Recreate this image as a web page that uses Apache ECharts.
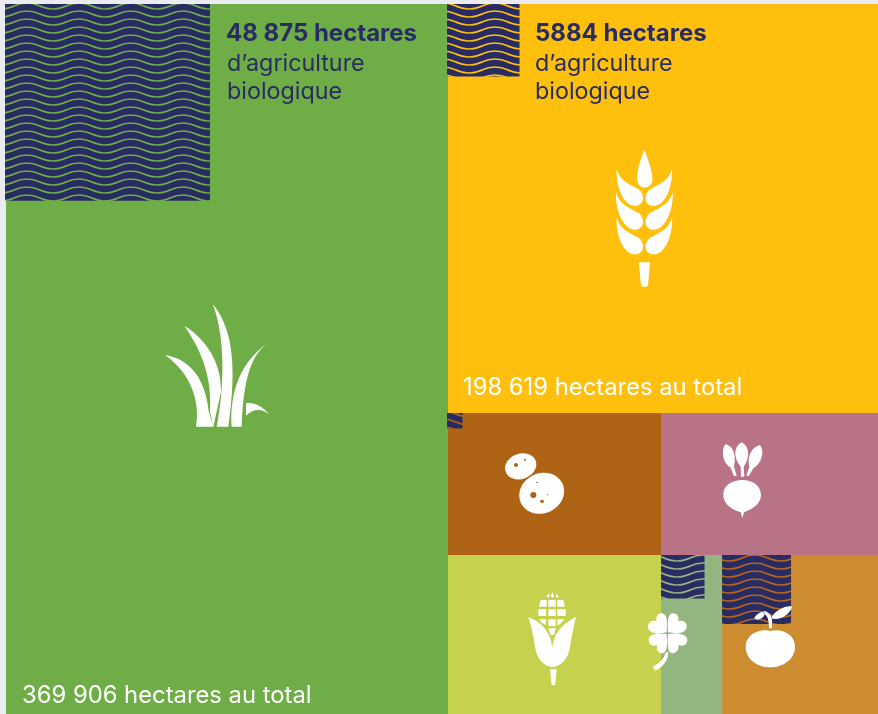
<!DOCTYPE html>
<html><head><meta charset="utf-8">
<style>html,body{margin:0;padding:0;background:#ebebf2;overflow:hidden}#c{width:878px;height:714px}</style>
<script src="https://cdn.jsdelivr.net/npm/echarts@6/dist/echarts.min.js"></script>
</head><body><div id="c"></div>
<script>
const tileNames = ['prairies', 'cereales', 'pommes de terre', 'betteraves', 'mais', 'trefle', 'fruits'];
const tileAreas = [369906, 207270, 35650, 36320, 39930, 11435, 29235];
const organicAreas = [49530, 6195, 283, 0, 0, 2230, 5610];
const tileGroups = [[0], [1], [2, 3], [4, 5, 6]];
const organicLabels = ['48 875 hectares', '5884 hectares', '', '', '', '', ''];
const organicCaption = ['d’agriculture', 'biologique'];
const totalLabels = ['369 906 hectares au total', '198 619 hectares au total', '', '', '', '', ''];

const NAVY = '#292c63';
const tileColors = ['#6fad47', '#fec00d', '#ae6414', '#b97387', '#c6d24e', '#93b57f', '#cc8c2f'];
const lineColors = ['#6fad47', '#fec00d', '#ae6414', '#b97387', '#c6d24e', '#93b57f', '#b4651a'];

const wheatGrain = [[50,85],[48,156],[50,230]].map(([x,y]) => {
  const d = y - 85;
  return `M${x},${y}C${x-3},${140+d} 70,${198+d} 105,${198+d}C132,${198+d} 138,${165+d} 115,${148+d}C95,${135+d} 58,${125+d} ${x},${y}Z`
    + `M${266-x},${y}C${269-x},${140+d} 196,${198+d} 161,${198+d}C134,${198+d} 128,${165+d} 151,${148+d}C171,${135+d} 208,${125+d} ${266-x},${y}Z`;
}).join('');
function blob(cx, cy, rx, ry, rot, sweep) {
  const a = rot * Math.PI / 180, dx = rx * Math.cos(a), dy = rx * Math.sin(a);
  return `M${cx-dx},${cy-dy}A${rx},${ry},${rot},1,${sweep},${cx+dx},${cy+dy}A${rx},${ry},${rot},1,${sweep},${cx-dx},${cy-dy}Z`;
}
const iconPaths = [
  // grass
  'M45,180C110,190 165,240 176,348L190,395L138,395C150,330 130,240 45,180Z'
  + 'M103,92C165,130 215,200 213,290L190,395L180,350C187,240 150,160 103,92Z'
  + 'M188,27C240,90 265,190 235,395L200,395C225,270 225,120 188,27Z'
  + 'M355,143C300,180 280,260 275,395L245,395C240,320 255,210 355,143Z'
  + 'M288,325C310,320 340,335 357,358C335,340 310,340 288,362Z',
  // wheat
  'M133,30C120,60 110,95 112,120C113,150 155,150 157,120C158,95 145,60 133,30Z' + wheatGrain
  + 'M116,367L150,367L144,436C143,442 124,442 123,436Z',
  // potatoes
  blob(242,184,48,38,-20,1) + blob(228,180,6,6,0,0) + blob(255,164,3,3,0,0)
  + blob(305,265,69,60,-25,1) + blob(280,270,9,9,0,0) + blob(306,289,6,5,0,0) + blob(291,232,3,2,0,0) + blob(322,269,2,2,0,0),
  // beet
  'M70,180C70,145 105,135 127,135C155,135 183,150 183,180C183,210 150,225 132,232L127,250L122,232C100,225 70,210 70,180Z'
  + 'M125,22C150,35 150,70 131,95L133,125L123,125L122,95C100,70 100,35 125,22Z'
  + 'M76,28C98,30 110,60 102,95L110,122L102,124L92,98C68,85 62,45 76,28Z'
  + 'M180,30C195,50 185,85 160,100L146,124L139,121L148,96C140,60 158,35 180,30Z',
  // corn
  'M55,112C90,125 122,150 127,205C132,150 165,130 198,110C190,140 185,170 180,200C175,235 155,258 127,262C100,258 80,235 75,200C70,170 65,140 55,112Z'
  + 'M120,268L140,268L136,312C135,317 125,317 124,312Z'
  + 'M92,60L110,60L110,80L87,80Z M115,60L137,60L137,80L115,80Z M142,60L160,60L165,80L142,80Z'
  + 'M85,88L108,88L108,108L85,108Z M115,88L137,88L137,108L115,108Z M142,88L167,88L167,108L142,108Z'
  + 'M88,118L108,118L108,135L95,128Z M115,118L137,118L137,138L115,138Z M142,118L163,118L150,133L142,135Z'
  + 'M115,145L137,145L132,165L122,165Z M108,50L118,40L118,52Z M122,52L127,36L133,52Z M138,40L147,52L138,52Z',
  // clover
  'M80,247C60,252 24,252 24,230C24,214 38,210 50,214C44,198 58,188 66,190C84,192 82,225 80,247Z'
  + 'M84,247C84,225 80,192 98,190C108,188 120,198 114,214C126,210 140,214 140,230C140,252 104,252 84,247Z'
  + 'M80,253C60,248 26,250 26,270C26,286 40,290 52,285C46,298 56,310 68,310C84,308 82,275 80,253Z'
  + 'M84,253C104,248 142,250 142,270C142,286 126,290 114,285C120,298 108,310 96,310C82,308 82,275 84,253Z'
  + 'M76,310C72,325 60,340 38,350L45,362C65,352 85,335 85,305Z',
  // apple
  'M392,243C420,235 465,250 465,290C465,330 425,352 392,352C355,352 317,330 317,290C317,250 365,235 392,243Z'
  + 'M393,205C405,180 440,165 456,170C452,190 420,215 393,205Z'
  + 'M342,205C350,190 365,185 372,185C380,200 355,215 342,205Z'
  + 'M387,235L396,235L396,205C393,195 385,185 372,183L370,190C380,195 387,205 387,235Z'
];
// icon origin relative to its tile, in pixels
const iconOffsets = [[144,291],[152,136],[-8,-8],[39,22],[62,25],[-21,-5],[-82,-5]];
const FONT = 'Inter, sans-serif';

function hatch(color) {
  const c = document.createElement('canvas');
  c.width = 52; c.height = 8;
  const g = c.getContext('2d');
  g.fillStyle = NAVY; g.fillRect(0, 0, 52, 8);
  g.strokeStyle = color; g.lineWidth = 1.7;
  for (let y = -15; y <= 17; y += 8) {
    g.beginPath(); g.moveTo(-51, y);
    for (let x = -51; x < 104; x += 52) {
      g.bezierCurveTo(x + 13, y, x + 13, y - 6, x + 26, y - 6);
      g.bezierCurveTo(x + 39, y - 6, x + 39, y, x + 52, y);
    }
    g.stroke();
  }
  return c;
}
const hatches = lineColors.map(hatch);

// Slice-and-dice layout in unit square, from tile areas
const total = tileAreas.reduce((a, b) => a + b, 0);
const rows = [];
(function () {
  const leftShare = tileAreas[0] / total;
  rows[0] = [0, 0, leftShare, 1];
  const rightTotal = total - tileAreas[0];
  let y = 0;
  tileGroups.slice(1).forEach(group => {
    const sum = group.reduce((s, i) => s + tileAreas[i], 0);
    const h = sum / rightTotal;
    let x = leftShare;
    group.forEach(i => {
      const w = (tileAreas[i] / sum) * (1 - leftShare);
      rows[i] = [x, y, x + w, y + h];
      x += w;
    });
    y += h;
  });
})();
const seriesData = tileNames.map((n, i) => ({ name: n, value: [...rows[i], i] }));

const chart = echarts.init(document.getElementById('c'), null, { renderer: 'canvas' });
chart.setOption({
  animation: false,
  backgroundColor: '#ebebf2',
  grid: { left: 6, top: 4, right: 0, bottom: 0 },
  xAxis: { type: 'value', min: 0, max: 1, show: false },
  yAxis: { type: 'value', min: 0, max: 1, inverse: true, show: false },
  series: [
    { // tiles
      type: 'custom', coordinateSystem: 'cartesian2d', clip: false, silent: true, z: 1,
      data: seriesData,
      renderItem(params, api) {
        const i = api.value(4);
        const a = api.coord([api.value(0), api.value(1)]);
        const b = api.coord([api.value(2), api.value(3)]);
        return { type: 'rect', shape: { x: a[0], y: a[1], width: b[0] - a[0], height: b[1] - a[1] }, style: { fill: tileColors[i] } };
      }
    },
    { // organic-farming hatches, icons and texts
      type: 'custom', coordinateSystem: 'cartesian2d', clip: false, silent: true, z: 2,
      data: seriesData,
      renderItem(params, api) {
        const i = api.value(4);
        const a = api.coord([api.value(0), api.value(1)]);
        const b = api.coord([api.value(2), api.value(3)]);
        const unit = Math.sqrt((params.coordSys.width * params.coordSys.height) / total);
        const kids = [];
        const sqArea = organicAreas[i];
        if (sqArea > 0) {
          const s = Math.sqrt(sqArea) * unit;
          kids.push({ type: 'rect', shape: { x: a[0] - (i <= 2 ? 1 : 0), y: a[1], width: s, height: s * (i === 0 ? 0.96 : 1) }, style: { fill: { image: hatches[i], repeat: 'repeat' } } });
        }
        kids.push({ type: 'path', x: a[0] + iconOffsets[i][0], y: a[1] + iconOffsets[i][1], scaleX: 1 / 3, scaleY: 1 / 3,
          shape: { pathData: iconPaths[i] }, style: { fill: '#fff' }, z2: 5 });
        if (organicLabels[i]) {
          const tx = i === 0 ? a[0] + 220 : a[0] + 87;
          kids.push({ type: 'text', x: tx, y: a[1] + 30, style: { text: organicLabels[i], font: `700 24px ${FONT}`, fill: NAVY, verticalAlign: 'middle' }, z2: 6 });
          organicCaption.forEach((t, k) => kids.push({ type: 'text', x: tx + (i === 0 ? 1 : 0), y: a[1] + 60 + k * 28, style: { text: t, font: `400 23.3px ${FONT}`, fill: NAVY, verticalAlign: 'middle' }, z2: 6 }));
          kids.push({ type: 'text', x: a[0] + (i === 0 ? 16 : 15), y: b[1] - (i === 0 ? 18 : 25), style: { text: totalLabels[i], font: `400 23.8px ${FONT}`, fill: '#fff', verticalAlign: 'middle' }, z2: 6 });
        }
        return { type: 'group', children: kids };
      }
    }
  ]
});
</script></body></html>
